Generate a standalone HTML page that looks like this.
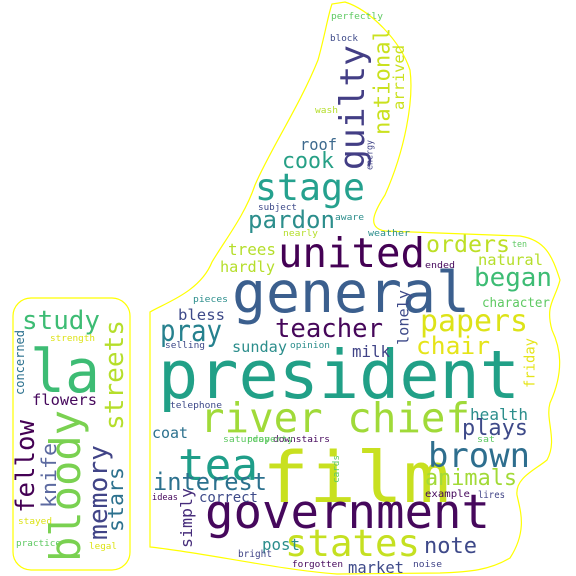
<!DOCTYPE html>
<html><head><meta charset="utf-8"><style>
html,body{margin:0;padding:0;background:#fff;}
svg{display:block;}
text{font-family:"DejaVu Sans Mono","Liberation Mono",monospace;}
</style></head><body>
<svg id="cloud" width="576" height="576" viewBox="0 0 576 576" xmlns="http://www.w3.org/2000/svg">
<rect width="576" height="576" fill="#fff"/>
<rect x="13" y="298" width="117" height="272" rx="18" fill="none" stroke="#ffff00" stroke-width="1.2"/>
<path fill="none" stroke="#ffff00" stroke-width="1.2"
d="M150,547 L150,312 C165,303 200,292 212,262 C225,240 245,215 255,185 C270,150 300,105 318,60 C325,35 328,15 332,4 L345,2 C370,10 400,40 410,70 C414,100 405,150 385,195 C372,215 368,228 385,231 L520,236 C545,240 552,255 560,280 C555,300 545,305 552,330 C560,347 565,370 550,403 C545,420 558,440 547,460 C535,470 515,478 517,495 C520,510 528,530 510,558 C490,570 470,572 440,573 L337,574 C280,570 200,552 150,547 Z"/>
<g id="words"></g>
</svg>
<script>
// horizontal words: text, left x, baseline y, font size, pixel width, colour
const hWords = ["president","general","film","government","river chief","tea","united","stage","states","brown","la","study","papers","teacher","pray","pardon","cook","roof","orders","began","natural","trees","hardly","interest","animals","health","plays","chair","note","market","post","bright","forgotten","noise","correct","ideas","example","lires","coat","saturday","downstairs","sat","telephone","property","bless","sunday","milk","pieces","selling","opinion","ended","character","ten","weather","nearly","aware","subject","wash","block","perfectly","flowers","strength","stayed","practice","legal"];
const hX = [158,232,262,205,200,178,278,255,285,428,30,22,420,275,160,248,282,300,426,474,478,228,220,153,425,470,462,416,424,348,262,238,292,413,199,152,425,478,152,223,273,477,170,247,178,232,352,193,165,290,425,482,512,368,283,335,258,315,330,331,32,50,18,16,89];
const hY = [398,312,502,528,432,480,267,200,556,467,392,329,331,337,341,228,168,150,252,286,265,255,272,490,485,420,435,354,553,573,550,557,567,567,502,500,497,498,438,442,442,442,408,442,320,352,357,302,348,348,268,307,247,236,236,220,210,113,41,19,405,341,524,546,549];
const hS = [67,57,70,47,41,44,41,37,37,34,60,26,30,26,29,24,22,16,23,26,15.5,16,15,24,22,16,22,24,22,16,16,9.5,9,9,14,9,10,10,15,9,9,9,9,9,15,15,16,9,9,9,9,13,9,9,9,9,9,9,9,9,15,9,9,9,9];
const hW = [362,238,188,285,270,80,147,110,135,102,70,78,108,108,62,87,52,37,84,78,65,48,55,114,92,58,66,74,53,56,38,34,51,29,59,26,45,27,36,47,57,18,52,46,47,55,38,35,40,40,30,68,15,42,35,29,39,23,28,52,65,45,34,45,28];
const hC = ["#21a087","#3b5f8e","#c8e020","#46085c","#a0da39","#1f9e89","#440154","#25a18e","#c5e021","#2e6e8e","#3dbc74","#3dbc74","#dde318","#46075a","#26818e","#2c8e8c","#27a086","#3e6a8e","#bddf26","#3dbc74","#b5de2b","#b5de2b","#b5de2b","#2c718e","#a2da37","#2c8e8c","#3e4a89","#e5e419","#3e4989","#3e4a89","#2c8e8c","#414487","#46085c","#414487","#3e4a89","#46085c","#46085c","#414487","#2c718e","#5ec962","#46085c","#5ec962","#3e4a89","#5ec962","#3e4a89","#2c8e8c","#414487","#2c8e8c","#3e4a89","#2c8e8c","#46085c","#5ec962","#5ec962","#2c8e8c","#b5de2b","#2c8e8c","#3e4a89","#b5de2b","#3e4a89","#5ec962","#46085c","#dde318","#dde318","#5ec962","#dde318"];
// vertical words (reading bottom to top): text, left x of box, bottom y, font size, pixel length, colour
const vWords = ["guilty","national","arrived","energy","lonely","friday","simply","cards","streets","concerned","fellow","knife","bloody","memory","stars"];
const vX = [338,373,392,366,397,524,180,332,103,15,14,41,48,87,107];
const vY = [170,135,110,170,345,388,548,483,430,395,513,508,562,540,532];
const vS = [34,22,15.5,8.5,15,14,16,9,26,12,26,20,42,26,21];
const vL = [125,107,65,30,55,50,60,28,110,65,93,65,152,95,65];
const vC = ["#433e85","#cae11f","#cae11f","#414487","#3e4a89","#e5e419","#472d7b","#5ec962","#b5de2b","#2c718e","#440154","#5c6aa0","#7ad151","#414487","#2c718e"];

const NS = "http://www.w3.org/2000/svg";
const g = document.getElementById('words');
hWords.forEach((w, i) => {
  const t = document.createElementNS(NS, 'text');
  
  
  t.setAttribute('x', hX[i]);
  t.setAttribute('y', hY[i]);
  t.setAttribute('font-size', hS[i]);
  t.setAttribute('fill', hC[i]);
  t.setAttribute('textLength', hW[i]);
  t.setAttribute('lengthAdjust', 'spacingAndGlyphs');
  t.textContent = w;
  g.appendChild(t);
});
vWords.forEach((w, i) => {
  const t = document.createElementNS(NS, 'text');
  
  
  const bx = vX[i] + 0.76 * vS[i];
  t.setAttribute('transform', 'translate(' + bx + ',' + vY[i] + ') rotate(-90)');
  t.setAttribute('font-size', vS[i]);
  t.setAttribute('fill', vC[i]);
  t.setAttribute('textLength', vL[i]);
  t.setAttribute('lengthAdjust', 'spacingAndGlyphs');
  t.textContent = w;
  g.appendChild(t);
});
</script>
</body></html>
